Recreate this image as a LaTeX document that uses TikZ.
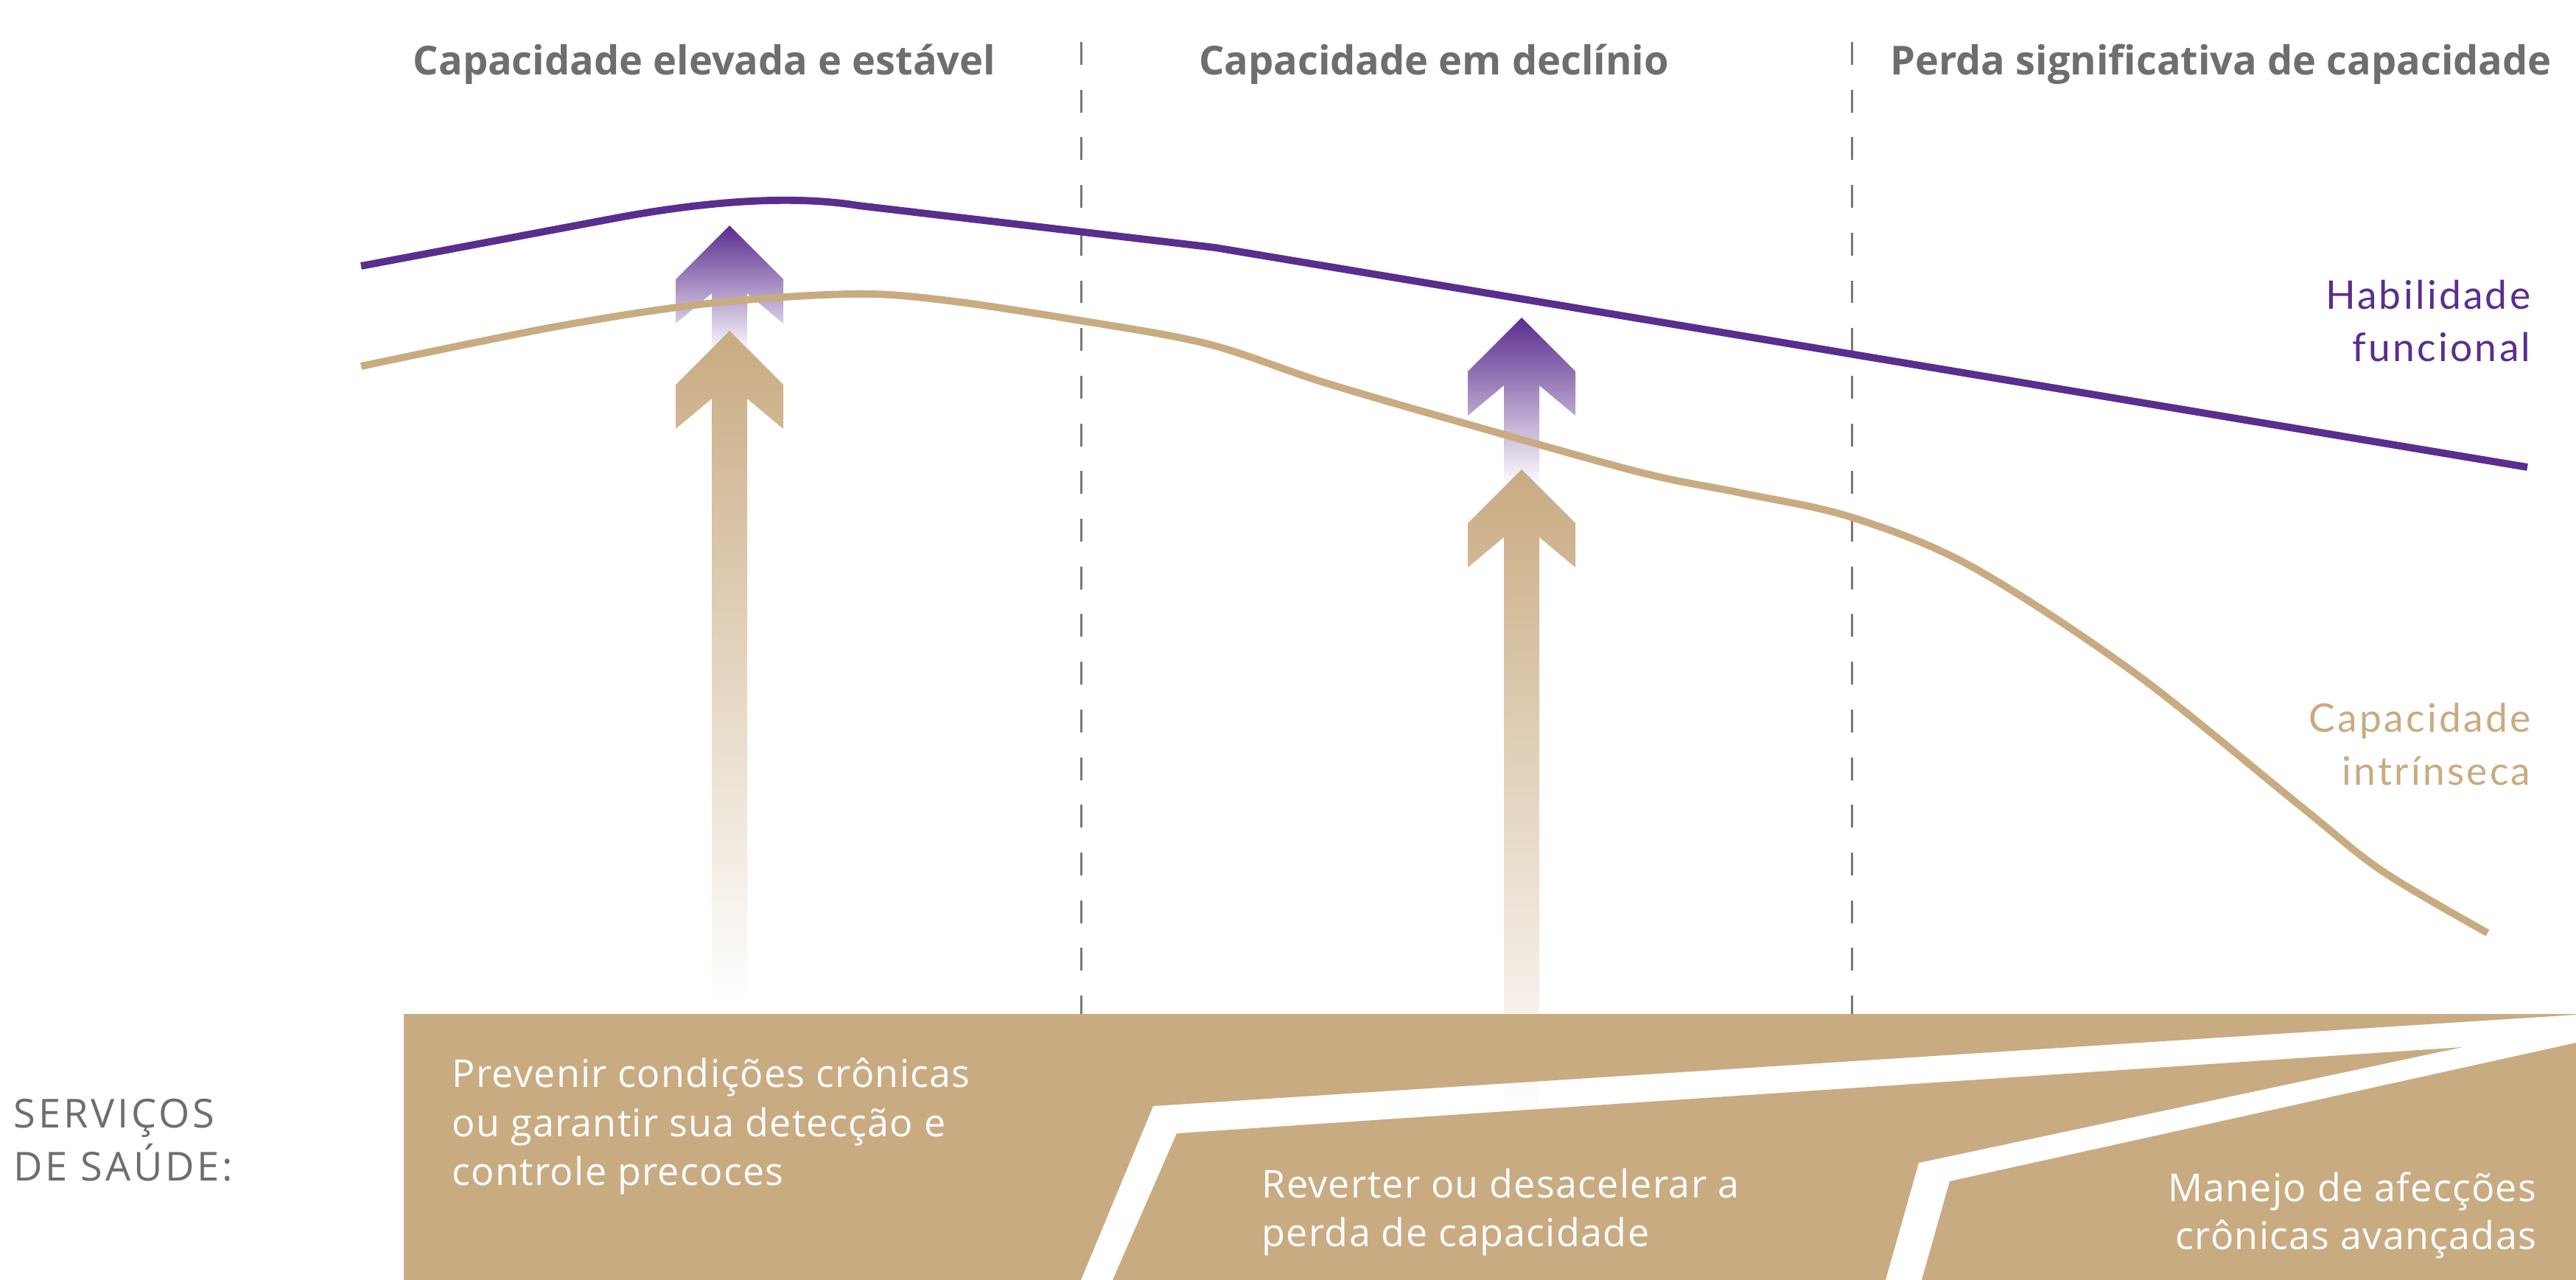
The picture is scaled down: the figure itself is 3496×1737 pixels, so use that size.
\documentclass[tikz,border=0pt]{standalone}
\usepackage{fontspec}
\setmainfont{Open Sans}
\newfontfamily\labelfont[LetterSpace=6]{Lato}
\newfontfamily\bandfont[LetterSpace=2.5]{Open Sans}
\newfontfamily\svcfont[LetterSpace=7]{Open Sans}
\definecolor{tanc}{RGB}{201,171,130}
\definecolor{purp}{RGB}{91,45,142}
\definecolor{graytxt}{RGB}{110,110,110}
\definecolor{dashgray}{RGB}{120,120,120}
\newcommand{\myArrowPath}[3]{(#1,#2) -- ++(73,73) -- ++(0,60) -- ++(-49,-41) -- (#1+24,#3) -- (#1-24,#3) -- (#1-24,#2+92) -- ++(-49,41) -- ++(0,-60) -- cycle}
\begin{document}
\begin{tikzpicture}[x=0.01cm,y=-0.01cm,
  hd/.style={anchor=base, inner sep=0, text=graytxt, font=\fontsize{15.4}{18}\selectfont\bfseries},
  lbl/.style={anchor=base east, inner sep=0, font=\labelfont\fontsize{15.2}{18}\selectfont},
  bandtxt/.style={inner sep=0, text=white, font=\bandfont\fontsize{14.8}{19}\selectfont},
  svc/.style={anchor=base west, inner sep=0, text=graytxt, font=\svcfont\fontsize{15.4}{20}\selectfont},
  divider/.style={draw=dashgray, line width=0.85pt, dash pattern=on 8.8pt off 9.6pt},
  curve/.style={line width=2.8pt, line join=round}]
\useasboundingbox (0,0) rectangle (3496,1737);

% dashed dividers
\coordinate (d1t) at (1467,57);
\coordinate (d1b) at (1467,1383);
\coordinate (d2t) at (2513,57);
\coordinate (d2b) at (2513,1383);
\draw[divider] (d1t) -- (d1b);
\draw[divider] (d2t) -- (d2b);

% headings
\node[hd] (h1) at (956,102) {Capacidade elevada e estável};
\node[hd] (h2) at (1946,102) {Capacidade em declínio};
\node[hd] (h3) at (3014,102) {Perda significativa de capacidade};

% arrows (behind band)
\shade[top color=purp, bottom color=white] \myArrowPath{990}{306}{480};
\shade[top color=purp, bottom color=white] \myArrowPath{2065}{431}{660};
\shade[top color=tanc, bottom color=white] \myArrowPath{990}{449}{1365};
\shade[top color=tanc, bottom color=white] \myArrowPath{2065}{637}{1515};

% band
\fill[tanc] (548,1376) -- (3496,1376) -- (3496,1377) -- (1565,1501) -- (1467,1737) -- (548,1737) -- cycle;
\fill[tanc] (1597,1538) -- (3342,1421) -- (2604,1578) -- (2559,1737) -- (1510,1737) -- cycle;
\fill[tanc] (3496,1415) -- (2646,1603) -- (2608,1737) -- (3496,1737) -- cycle;

% curves
\draw[curve, draw=purp] (490,361) -- (830,297) .. controls (930,278) and (1060,262) .. (1165,279) -- (1649,336) -- (3430,634);
\draw[curve, draw=tanc] plot[smooth, tension=0.55] coordinates {(490,497) (756,443) (960,412) (1154,399) (1279,407) (1466,435) (1640,467) (1800,520) (2007,580) (2230,642) (2363,669) (2513,702) (2676,769) (2898,914) (3121,1093) (3233,1182) (3376,1266)};

% curve labels
\node[lbl, text=purp] (hf1) at (3435,420) {Habilidade};
\node[lbl, text=purp] (hf2) at (3435,491) {funcional};
\node[lbl, text=tanc] (ci1) at (3435,994) {Capacidade};
\node[lbl, text=tanc] (ci2) at (3435,1065) {intrínseca};

% services label
\node[svc] (s1) at (18,1530) {SERVIÇOS};
\node[svc] (s2) at (18,1602) {DE SAÚDE:};

% band texts
\node[bandtxt, anchor=base west] (a1) at (613,1475) {Prevenir condições crônicas};
\node[bandtxt, anchor=base west] (a2) at (613,1542) {ou garantir sua detecção e};
\node[bandtxt, anchor=base west] (a3) at (613,1608) {controle precoces};
\node[bandtxt, anchor=base west] (b1) at (1712,1625) {Reverter ou desacelerar a};
\node[bandtxt, anchor=base west] (b2) at (1712,1691) {perda de capacidade};
\node[bandtxt, anchor=base east] (c1) at (3443,1630) {Manejo de afecções};
\node[bandtxt, anchor=base east] (c2) at (3443,1695) {crônicas avançadas};
\end{tikzpicture}
\end{document}
